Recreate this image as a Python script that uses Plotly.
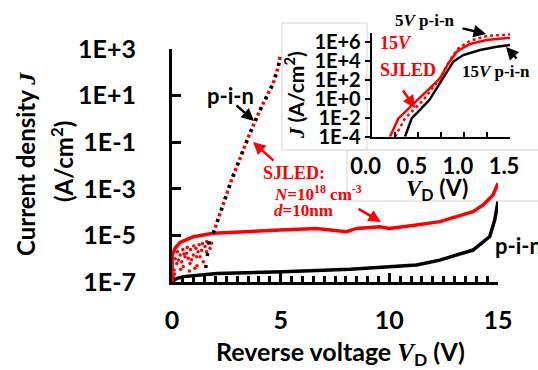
import plotly.graph_objects as go

W, H = 538, 370

# ---------------- main panel data (reverse bias) ----------------
sj_rev_v = [0, 0.01, 0.14, 0.37, 0.98, 1.9, 4.97, 6.65, 8.03, 8.5, 9.56, 10.0, 11.25, 12.32, 13.85, 14.31, 14.77, 15.0]
sj_rev_j = [1.0e-7, 1.4e-6, 2.8e-6, 5.0e-6, 8.7e-6, 1.23e-5, 1.7e-5, 2.0e-5, 1.45e-5, 2.0e-5, 2.35e-5, 2.0e-5,
            2.8e-5, 3.9e-5, 1.05e-4, 2.0e-4, 5.4e-4, 1.74e-3]

pin_rev_v = [0, 0.2, 0.53, 2.06, 5.1, 8.2, 11.25, 12.32, 13.85, 14.62, 14.85, 15.0]
pin_rev_j = [1.0e-7, 1.4e-7, 1.7e-7, 2.3e-7, 2.75e-7, 3.5e-7, 5.4e-7, 8.7e-7, 2.35e-6, 8.9e-6, 4.6e-5, 2.8e-4]

# dotted (forward-like) characteristic shared by both devices
sj_dot_v = [1.9, 2.74, 3.59, 4.05, 4.66, 4.89, 4.97]
sj_dot_j = [1.23e-5, 2.4e-3, 0.25, 2.4, 34, 174, 468]
pin_dot_v = [1.55, 1.62, 1.72, 1.9, 2.74, 3.59, 4.05, 4.66, 4.89, 4.97]
pin_dot_j = [4.0e-7, 1.26e-6, 6.3e-6, 1.23e-5, 2.4e-3, 0.25, 2.4, 34, 174, 468]

# scattered noisy SJLED points at low voltage
sj_noise_v = [0.03, 0.06, 0.1, 0.15, 0.22, 0.25, 0.3, 0.37, 0.4, 0.45, 0.5, 0.52, 0.6, 0.67, 0.7, 0.75,
              0.8, 0.83, 0.85, 0.9, 0.98, 1.0, 1.05, 1.1, 1.13, 1.2, 1.25, 1.29, 1.36, 1.4, 1.44, 1.52,
              1.59, 1.6, 1.67, 1.75, 1.82, 0.12, 0.55, 1.15]
sj_noise_j = [1.2e-7, 1.7e-7, 3.3e-7, 1.0e-6, 6.3e-7, 2.0e-6, 8.9e-7, 1.45e-6, 3.5e-7, 7.4e-7, 2.5e-6, 4.6e-7,
              1.2e-6, 1.7e-6, 3.0e-6, 1.05e-6, 3.0e-7, 6.3e-7, 2.5e-6, 9.0e-7, 1.45e-6, 3.5e-6, 3.9e-7, 2.8e-6,
              1.2e-6, 2.0e-6, 4.0e-6, 1.2e-6, 2.3e-6, 4.5e-6, 7.4e-7, 3.3e-6, 2.0e-6, 5.5e-6, 4.6e-6, 2.8e-6,
              4.6e-6, 2.2e-7, 1.6e-6, 5.0e-7]

main_x_ticks = [0, 5, 10, 15]
main_y_ticks = [1e-7, 1e-5, 1e-3, 1e-1, 1e1, 1e3]
main_y_text = ["1E-7", "1E-5", "1E-3", "1E-1", "1E+1", "1E+3"]

# ---------------- inset data (forward bias) ----------------
in_sj15_v = [0.198, 0.289, 0.495, 0.741, 0.831, 0.922, 1.066, 1.247, 1.5]
in_sj15_j = [1e-4, 8.5e-3, 0.72, 141, 5.2e3, 8.9e4, 5.75e5, 1.5e6, 2.6e6]
in_pin15_v = [0.361, 0.434, 0.625, 0.759, 0.885, 0.994, 1.175, 1.356, 1.5]
in_pin15_j = [1e-4, 8.5e-3, 0.72, 93, 7.9e3, 4.0e4, 1.35e5, 2.95e5, 4.5e5]
in_pin5_v = [0.253, 0.361, 0.560, 0.741, 0.849, 0.939, 1.066, 1.247, 1.5]
in_pin5_j = [1e-4, 8.5e-3, 0.72, 141, 1.17e4, 2.0e5, 1.26e6, 4.0e6, 6.0e6]

in_x_ticks = [0, 0.5, 1.0, 1.5]
in_x_text = ["0.0", "0.5", "1.0", "1.5"]
in_y_ticks = [1e-4, 1e-2, 1e0, 1e2, 1e4, 1e6]
in_y_text = ["1E-4", "1E-2", "1E+0", "1E+2", "1E+4", "1E+6"]

RED = "#ff0000"
BLK = "#000000"
SERIF = "Liberation Serif"


def fx(p):
    return p / W


def fy(p):
    return 1 - p / H


fig = go.Figure()

# main panel
fig.add_trace(go.Scatter(x=sj_rev_v, y=sj_rev_j, mode="lines", line=dict(color=RED, width=3.5),
                         xaxis="x", yaxis="y", showlegend=False))
fig.add_trace(go.Scatter(x=pin_rev_v, y=pin_rev_j, mode="lines", line=dict(color=BLK, width=3.5),
                         xaxis="x", yaxis="y", showlegend=False))
fig.add_trace(go.Scatter(x=sj_noise_v, y=sj_noise_j, mode="markers", marker=dict(color=RED, size=3.5),
                         xaxis="x", yaxis="y", showlegend=False, cliponaxis=False))
fig.add_trace(go.Scatter(x=sj_dot_v, y=sj_dot_j, mode="lines", line=dict(color=RED, width=3.5, dash="3px,3px"),
                         xaxis="x", yaxis="y", showlegend=False))
fig.add_trace(go.Scatter(x=pin_dot_v, y=pin_dot_j, mode="lines", line=dict(color=BLK, width=3.5, dash="3px,9px"),
                         xaxis="x", yaxis="y", showlegend=False))

# inset
fig.add_trace(go.Scatter(x=in_pin15_v, y=in_pin15_j, mode="lines", line=dict(color=BLK, width=2.5),
                         xaxis="x2", yaxis="y2", showlegend=False))
fig.add_trace(go.Scatter(x=in_pin5_v, y=in_pin5_j, mode="lines", line=dict(color=RED, width=2.5, dash="dot"),
                         xaxis="x2", yaxis="y2", showlegend=False))
fig.add_trace(go.Scatter(x=in_sj15_v, y=in_sj15_j, mode="lines", line=dict(color=RED, width=2.5),
                         xaxis="x2", yaxis="y2", showlegend=False))

font_b = dict(family="Lato", weight="bold", color=BLK)

fig.update_layout(
    template="none",
    width=W, height=H, margin=dict(l=0, r=0, t=0, b=0, autoexpand=False),
    paper_bgcolor="white", plot_bgcolor="rgba(0,0,0,0)",
    font=dict(family="Lato", weight="bold", color=BLK),
    xaxis=dict(domain=[fx(172), fx(498)], range=[0, 15], anchor="y", automargin=False,
               showline=True, linecolor=BLK, linewidth=3, showgrid=False, zeroline=False,
               ticks="inside", ticklen=9, tickwidth=2.5, tickcolor=BLK,
               tickvals=main_x_ticks, tickfont=dict(size=25, **font_b),
               ticklabelstandoff=14,
               minor=dict(dtick=0.5, ticks="inside", ticklen=6, tickwidth=2.5, tickcolor=BLK, showgrid=False)),
    yaxis=dict(domain=[fy(282), fy(49)], type="log", range=[-7, 3], anchor="x", automargin=False,
               showline=True, linecolor=BLK, linewidth=3, showgrid=False, zeroline=False,
               ticks="inside", ticklen=9, tickwidth=3, tickcolor=BLK,
               tickvals=main_y_ticks, ticktext=main_y_text,
               tickfont=dict(size=25, **font_b), ticklabelstandoff=28),
    xaxis2=dict(domain=[fx(371.7), fx(510)], range=[0, 1.5], anchor="y2", automargin=False,
                showline=True, linecolor=BLK, linewidth=2, showgrid=False, zeroline=False,
                ticks="inside", ticklen=5, tickwidth=1.5, tickcolor=BLK,
                tickvals=in_x_ticks, ticktext=in_x_text,
                tickfont=dict(size=22, **font_b), ticklabelstandoff=9, ticklabelshift=-6,
                minor=dict(dtick=0.25, ticks="inside", ticklen=5, tickwidth=1.5, tickcolor=BLK, showgrid=False)),
    yaxis2=dict(domain=[fy(136.7), fy(33.2)], type="log", range=[-4, 6.9], anchor="x2", automargin=False,
                showline=True, linecolor=BLK, linewidth=2, showgrid=False, zeroline=False,
                ticks="outside", ticklen=5, tickwidth=1.5, tickcolor=BLK,
                tickvals=in_y_ticks, ticktext=in_y_text,
                tickfont=dict(size=20, **font_b), ticklabelstandoff=0),
)

# light frames of the pasted inset pieces
GRAY = "#d4d4d4"
for (x0, y0, x1, y1) in [(282, 23, 367, 150), (347, 150, 540, 201)]:
    fig.add_shape(type="rect", xref="paper", yref="paper", x0=fx(x0), x1=fx(x1), y0=fy(y1), y1=fy(y0),
                  line=dict(color=GRAY, width=1), fillcolor="rgba(0,0,0,0)", layer="below")


def txt(x, y, s, size, color=BLK, family="Lato", xanchor="center", angle=0):
    fig.add_annotation(x=fx(x), y=fy(y), xref="paper", yref="paper", text=s, showarrow=False,
                       xanchor=xanchor, yanchor="middle", textangle=angle,
                       font=dict(size=size, color=color, family=family, weight="bold"))


def arrow(hx, hy, tx, ty, color):
    fig.add_annotation(x=fx(hx), y=fy(hy), xref="paper", yref="paper", text="", showarrow=True,
                       ax=tx - hx, ay=ty - hy, arrowhead=2, arrowsize=1, arrowwidth=2.5, arrowcolor=color)


SJ = "<span style='font-family:Liberation Serif'><i>%s</i></span>"

# axis titles
txt(25, 164, "Current density " + SJ % "J", 24, angle=-90)
txt(62, 162, "(A/cm<sup>2</sup>)", 24, angle=-90)
txt(340, 353, "Reverse voltage " + SJ % "V" + "<sub>D</sub> (V)", 25)
txt(294, 95, SJ % "J" + " (A/cm<sup>2</sup>)", 21, angle=-90)
txt(437, 188, SJ % "V" + "<sub>D</sub> (V)", 23)

# main annotations
txt(230, 95, "p-i-n", 22)
arrow(254, 121, 235, 104, BLK)
arrow(253, 142, 275, 162, RED)
txt(294, 173, "SJLED:", 18, color=RED, family=SERIF)
txt(272, 193, "<i>N</i>=10<sup>18</sup> cm<sup>-3</sup>", 17, color=RED, family=SERIF, xanchor="left")
txt(272, 211, "<i>d</i>=10nm", 17, color=RED, family=SERIF, xanchor="left")
arrow(381, 222, 357, 208, RED)
txt(493, 245, "p-i-n", 22, xanchor="left")

# inset annotations
txt(425, 21, "5<i>V</i> p-i-n", 17, family=SERIF)
arrow(486, 34, 461, 28, BLK)
txt(378, 43, "15<i>V</i>", 18, color=RED, family=SERIF, xanchor="left")
txt(378, 70, "SJLED", 18, color=RED, family=SERIF, xanchor="left")
arrow(415, 108, 402, 89, RED)
txt(496, 71, "15<i>V</i> p-i-n", 17, family=SERIF)
arrow(506, 47, 518, 60, BLK)

fig.write_html("out.html", config={"displayModeBar": False},
               post_script="document.body.style.margin='0px';document.body.style.overflow='hidden';")
